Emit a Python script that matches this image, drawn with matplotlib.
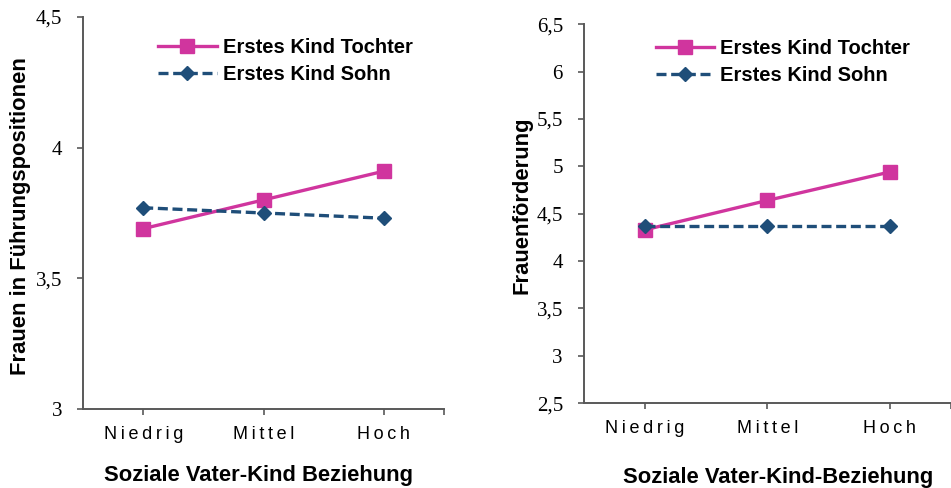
import matplotlib
matplotlib.use("Agg")
import matplotlib.pyplot as plt
from matplotlib.ticker import FixedLocator, FuncFormatter

# Category axis and the two interaction plots
categories = ["Niedrig", "Mittel", "Hoch"]
series_names = ["Erstes Kind Tochter", "Erstes Kind Sohn"]

fuehrung_tochter = [3.69, 3.80, 3.91]
fuehrung_sohn = [3.77, 3.75, 3.73]

foerderung_tochter = [4.33, 4.64, 4.94]
foerderung_sohn = [4.37, 4.37, 4.37]

PINK = "#D0359E"
BLUE = "#1F4E79"
SPINE = "#595959"

SANS = ["Liberation Sans", "DejaVu Sans"]
SERIF = ["Liberation Serif", "DejaVu Serif"]


def spaced(word):
    # letter-spaced category labels
    return "\u2009".join(word)


def comma(v, pos=None):
    s = f"{v:g}"
    return s.replace(".", ",")


def draw_panel(ax, tochter, sohn, yticks, leg_anchor):
    x = list(range(len(categories)))
    ax.plot(x, tochter, color=PINK, lw=2.4, marker="s", ms=10.5,
            label=series_names[0], zorder=3)
    ax.plot(x, sohn, color=BLUE, lw=2.4, ls=(0, (3.0, 1.4)), marker="D",
            ms=7.5, label=series_names[1], zorder=4)

    ax.set_xlim(-0.5, len(categories) - 0.5)
    ax.set_ylim(yticks[0], yticks[-1])
    ax.yaxis.set_major_locator(FixedLocator(yticks))
    ax.yaxis.set_major_formatter(FuncFormatter(comma))
    ax.set_xticks(x + [len(categories) - 0.5])
    ax.set_xticklabels([spaced(c) for c in categories] + [""])

    for side in ("top", "right"):
        ax.spines[side].set_visible(False)
    for side in ("left", "bottom"):
        ax.spines[side].set_color(SPINE)
        ax.spines[side].set_linewidth(1.4)

    ax.tick_params(axis="both", direction="out", length=4, width=1.2,
                   color=SPINE)
    ax.tick_params(axis="y", pad=11)
    ax.tick_params(axis="x", pad=8)
    for lab in ax.get_yticklabels():
        lab.set_fontfamily(SERIF)
        lab.set_fontsize(15)
    for lab in ax.get_xticklabels():
        lab.set_fontfamily(SANS)
        lab.set_fontsize(13)

    leg = ax.legend(loc="upper left", bbox_to_anchor=leg_anchor,
                    frameon=False, handlelength=2.9, handletextpad=0.3,
                    labelspacing=0.4, borderaxespad=0, borderpad=0,
                    prop={"family": SANS, "weight": "bold", "size": 14.5})
    return leg


fig = plt.figure(figsize=(9.51, 4.88), dpi=100, facecolor="white")

ax1 = fig.add_axes([0.0873, 0.1619, 0.3796, 0.8033])
ax2 = fig.add_axes([0.6138, 0.1736, 0.3862, 0.7770])

draw_panel(ax1, fuehrung_tochter, fuehrung_sohn, [3, 3.5, 4, 4.5],
           (0.208, 0.946))
draw_panel(ax2, foerderung_tochter, foerderung_sohn,
           [2.5, 3, 3.5, 4, 4.5, 5, 5.5, 6, 6.5], (0.196, 0.960))

label_kw = dict(fontfamily=SANS, fontweight="bold", fontsize=15.8,
                ha="center", va="center")
fig.text(258 / 951, 1 - 475 / 488, "Soziale Vater-Kind Beziehung", **label_kw)
fig.text(778 / 951, 1 - 477 / 488, "Soziale Vater-Kind-Beziehung", **label_kw)
fig.text(21 / 951, 1 - 216 / 488, "Frauen in Führungspositionen",
         rotation=90, **label_kw)
fig.text(522 / 951, 1 - 205 / 488, "Frauenförderung", rotation=90, **label_kw)

fig.savefig("out.png", dpi=100, facecolor="white")
